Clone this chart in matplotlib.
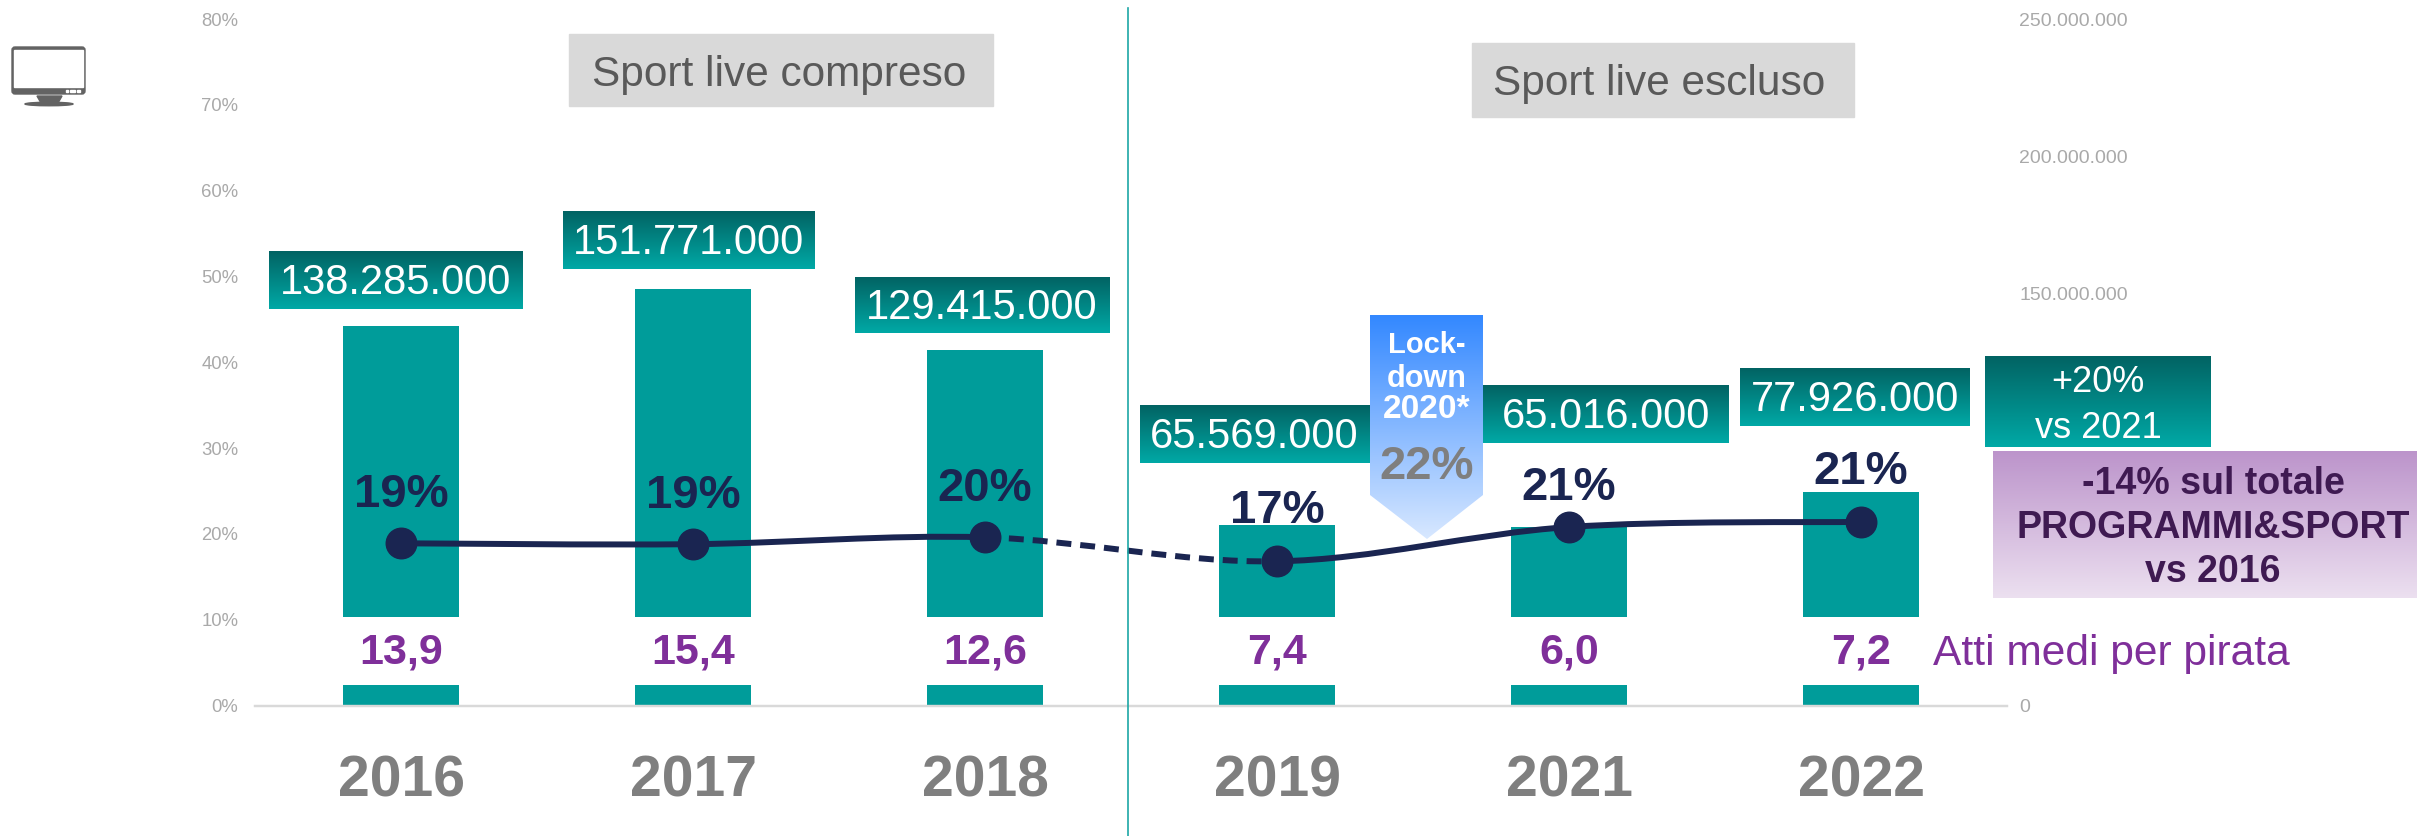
import numpy as np
import matplotlib
matplotlib.use("Agg")
import matplotlib.pyplot as plt
from matplotlib.colors import LinearSegmentedColormap
from matplotlib.patches import Rectangle, Polygon, PathPatch, FancyBboxPatch, Ellipse
from matplotlib.path import Path

plt.rcParams["font.family"] = ["Liberation Sans", "DejaVu Sans"]

W, H = 2417, 836

# Dati
anni = ["2016", "2017", "2018", "2019", "2021", "2022"]
atti_pirateria = [138285000, 151771000, 129415000, 65569000, 65016000, 77926000]
atti_label = ["138.285.000", "151.771.000", "129.415.000", "65.569.000", "65.016.000", "77.926.000"]
quota = [18.9, 18.8, 19.6, 16.8, 20.8, 21.4]
quota_label = ["19%", "19%", "20%", "17%", "21%", "21%"]
atti_medi = ["13,9", "15,4", "12,6", "7,4", "6,0", "7,2"]
tick_sx = [0, 10, 20, 30, 40, 50, 60, 70, 80]
tick_dx = [0, 50000000, 100000000, 150000000, 200000000, 250000000]

TEAL = "#009c9a"
NAVY = "#1a2551"
PURPLE = "#7f2f9a"
GRAY_TICK = "#a9a9a9"

# Layout, in pixel
box_teal = [(269, 523, 251, 309), (563, 815, 211, 269), (855, 1110, 277, 333),
            (1140, 1372, 405, 463), (1483, 1729, 385, 443), (1740, 1970, 368, 426)]
centro_label = [396, 689, 982, 1254, 1606, 1855]
offset_quota = [48, 48, 48, 50, 39, 50]


def formato_dx(v):
    return f"{v:,}".replace(",", ".")


fig = plt.figure(figsize=(W / 100, H / 100), dpi=100, facecolor="white")
rect = [255 / W, (H - 705.5) / H, 1752 / W, 686.5 / H]

ax = fig.add_axes(rect)
ax2 = ax.twinx()
ax.set_zorder(ax2.get_zorder() + 1)
ax.patch.set_visible(False)

x = np.arange(len(anni))

# Barre, con la fascia bianca per gli atti medi
ax2.bar(x, atti_pirateria, width=0.40, color=TEAL)
ax2.bar(x, 24760000, bottom=7500000, width=0.44, color="white")
ax2.set_ylim(0, 250000000)
ax2.set_yticks(tick_dx)
ax2.set_yticklabels([formato_dx(v) for v in tick_dx], fontsize=14, color=GRAY_TICK)
ax2.tick_params(axis="y", length=0, pad=9)

ax.set_xlim(-0.5, 5.5)
ax.set_ylim(0, 80)
ax.set_yticks(tick_sx)
ax.set_yticklabels([f"{v}%" for v in tick_sx], fontsize=13.3, color=GRAY_TICK)
ax.tick_params(axis="y", length=0, pad=12)
ax.set_xticks(x)
ax.set_xticklabels(anni, fontsize=41, fontweight="bold", color="#7f7f7f")
ax.tick_params(axis="x", length=0, pad=35)

for a in (ax, ax2):
    for s in ("top", "left", "right"):
        a.spines[s].set_visible(False)
    a.spines["bottom"].set_color("#d9d9d9")
    a.spines["bottom"].set_linewidth(1.6)

# Linea smussata, tratteggiata fra 2018 e 2019
punti = np.column_stack([x, quota])
for i in range(len(punti) - 1):
    p0 = punti[max(i - 1, 0)]
    p1 = punti[i]
    p2 = punti[i + 1]
    p3 = punti[min(i + 2, len(punti) - 1)]
    c1 = p1 + (p2 - p0) / 6
    c2 = p2 - (p3 - p1) / 6
    path = Path([p1, c1, c2, p2], [Path.MOVETO, Path.CURVE4, Path.CURVE4, Path.CURVE4])
    stile = (0, (2.5, 1.5)) if i == 2 else "-"
    ax.add_patch(PathPatch(path, fill=False, edgecolor=NAVY, linewidth=4.3, linestyle=stile, zorder=3))
ax.plot(x, quota, linestyle="none", marker="o", markersize=22, color=NAVY, zorder=4)

for xi, q, lab, off in zip(x, quota, quota_label, offset_quota):
    ax.annotate(lab, (xi, q), xytext=(0, off * 0.72), textcoords="offset points",
                ha="center", va="center", fontsize=34, fontweight="bold", color=NAVY, zorder=5)

# Overlay in pixel per riquadri e note
ov = fig.add_axes([0, 0, 1, 1], zorder=10)
ov.patch.set_visible(False)
ov.set_axis_off()
ov.set_xlim(0, W)
ov.set_ylim(H, 0)
ov.set_autoscale_on(False)


def gradiente(x0, x1, y0, y1, top, bottom, clip=None):
    cmap = LinearSegmentedColormap.from_list("g", [top, bottom])
    im = ov.imshow(np.linspace(0, 1, 256).reshape(-1, 1), cmap=cmap, aspect="auto",
                   extent=(x0, x1, y1, y0), origin="upper", zorder=2)
    if clip is not None:
        im.set_clip_path(clip)


# Riquadri grigi
ov.add_patch(Rectangle((569, 34), 424, 72, color="#d9d9d9", zorder=1))
ov.text(779, 75, "Sport live compreso", fontsize=30.5, color="#595959", ha="center", va="center", zorder=3)
ov.add_patch(Rectangle((1472, 43), 382, 74, color="#d9d9d9", zorder=1))
ov.text(1659, 84, "Sport live escluso", fontsize=30.5, color="#595959", ha="center", va="center", zorder=3)

# Separatore
ov.plot([1128, 1128], [8, H], color="#1ca7a5", linewidth=1.2, zorder=1)

# Etichette atti
for (x0, x1, y0, y1), lab, cx in zip(box_teal, atti_label, centro_label):
    gradiente(x0, x1, y0, y1, "#026363", "#00a9a6")
    ov.text(cx, (y0 + y1) / 2 + 3, lab, fontsize=30, color="white", ha="center", va="center", zorder=3)

# Freccia lockdown
freccia = Polygon([(1370, 315), (1483, 315), (1483, 495), (1427, 539), (1370, 495)],
                  closed=True, transform=ov.transData, facecolor="none", edgecolor="none")
ov.add_patch(freccia)
gradiente(1370, 1483, 315, 539, "#3388ff", "#d8e8ff", clip=freccia)
for y, t, fs in zip([345, 379, 410], ["Lock-", "down", "2020*"], [21, 22, 24]):
    ov.text(1427, y, t, fontsize=fs, fontweight="bold", color="white", ha="center", va="center", zorder=3)
ov.text(1427, 467, "22%", fontsize=34, fontweight="bold", color="#7f7f7f", ha="center", va="center", zorder=3)

# +20% vs 2021
gradiente(1985, 2211, 356, 447, "#026363", "#00a9a6")
ov.text(2098, 383, "+20%", fontsize=26, color="white", ha="center", va="center", zorder=3)
ov.text(2098, 428, "vs 2021", fontsize=26, color="white", ha="center", va="center", zorder=3)

# Riquadro viola
gradiente(1993, 2417, 451, 598, "#bc94cb", "#ece0f0")
for y, t in zip([484, 528, 572], ["-14% sul totale", "PROGRAMMI&SPORT", "vs 2016"]):
    ov.text(2213, y, t, fontsize=27, fontweight="bold", color="#3f1a52", ha="center", va="center", zorder=3)

# Atti medi per pirata
for xi, t in zip(x, atti_medi):
    px = 255 + (xi + 0.5) * 292
    ov.text(px, 652, t, fontsize=31, fontweight="bold", color=PURPLE, ha="center", va="center", zorder=3)
ov.text(1933, 654, "Atti medi per pirata", fontsize=30.6, color=PURPLE, ha="left", va="center", zorder=3)

# Icona monitor
ICON = "#636363"
ov.add_patch(FancyBboxPatch((12, 47), 73, 47, boxstyle="round,pad=0,rounding_size=3", facecolor=ICON, edgecolor=ICON, linewidth=1, zorder=2))
ov.add_patch(Rectangle((14, 50), 69, 37, color="white", zorder=3))
ov.add_patch(Polygon([(37, 96), (62, 96), (58, 103), (41, 103)], closed=True, color=ICON, zorder=2))
ov.add_patch(Ellipse((49, 104), 48, 3.5, color=ICON, zorder=2))
for xd, wd in zip([66, 70, 77], [2.5, 5.5, 3]):
    ov.add_patch(Rectangle((xd, 89.5), wd, 2.5, color="white", zorder=3))

fig.savefig("out.png", dpi=100)
